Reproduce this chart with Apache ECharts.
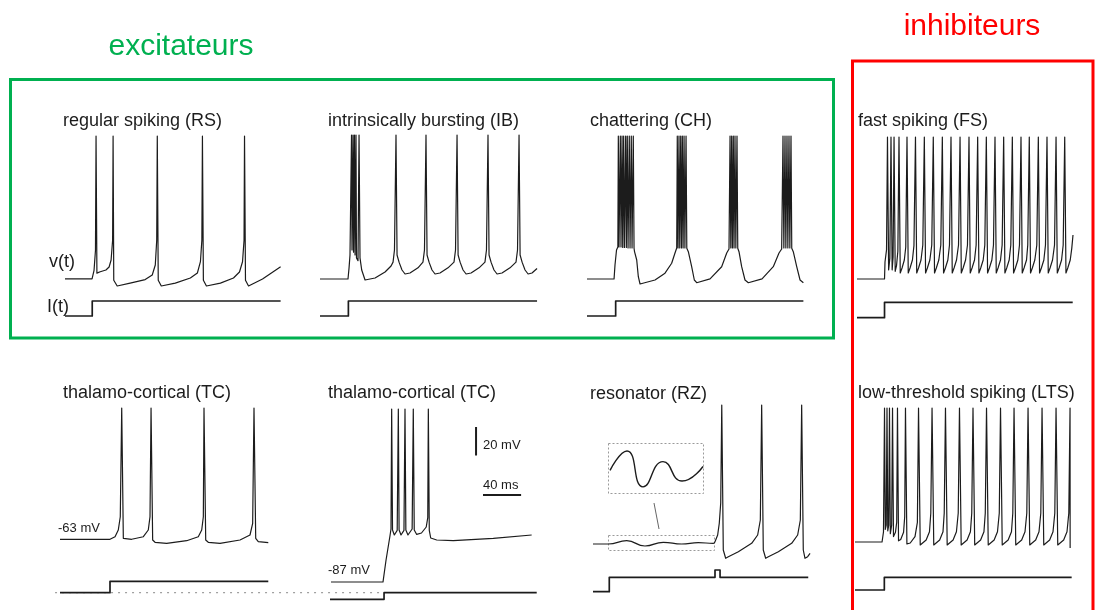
<!DOCTYPE html>
<html><head><meta charset="utf-8">
<script src="https://cdn.jsdelivr.net/npm/echarts@6/dist/echarts.min.js"></script>
<style>html,body{margin:0;padding:0;background:#fff}#c{width:1096px;height:610px}</style>
</head><body><div id="c"></div>
<script>
// ---- data: time in ms, membrane potential in mV, injected current in arbitrary units ----
const rsV = [[0,-70],[28.4,-70],[30.5,-64],[32,-50],[32.6,30],[33.5,-66],[37,-65],[43,-63.8],[46.3,-61.7],[48.4,-56.8],[50,-43],[50.5,30],[51.2,-71],[54.8,-75],[68.4,-73],[84.2,-70.5],[91.6,-67.3],[94.8,-60.3],[96.3,-43],[96.9,30],[97.9,-71],[101.1,-75],[115.8,-73],[131.6,-69.4],[139,-65.9],[142.2,-58],[143.7,-43],[144.3,30],[145.3,-71],[148.5,-75],[163.2,-73],[176.9,-69.4],[183.2,-65.2],[186.4,-58],[188,-43],[188.5,30],[189.5,-71],[192.7,-75],[207.4,-70.1],[226.4,-61.5]];
const rsI = [[0,0],[28.6,0],[28.6,15],[226.4,15]];

const ibV = [[0,-70.8],[29.4,-70.8],[30.5,-63],[31.5,-54],[32,-52.6],[33.1,30],[33.6,-50.5],[34.7,30],[35.2,-52],[36.2,30],[36.8,-54],[37.8,30],[38.3,-56],[39.9,-58],[41,30],[42,-56],[43.8,-64.5],[47.3,-71.5],[57.8,-70.1],[68.3,-65.9],[74.6,-61.7],[76.7,-59],[78.2,-50.5],[79.8,30],[80.9,-54],[83,-59],[86.1,-64.5],[89.3,-67.3],[94.5,-66.6],[102.9,-63],[108.1,-59],[109.7,-50.5],[111.3,30],[112.4,-54],[114.5,-59],[117.6,-64.5],[120.8,-67.3],[126,-66.6],[134.4,-63],[140.7,-59],[142.3,-50.5],[143.9,30],[145,-54],[147.1,-59],[150.2,-64.5],[153.4,-67.3],[158.6,-66.6],[167,-63],[173.2,-59],[174.8,-50.5],[176.4,30],[177.5,-54],[179.6,-59],[182.7,-64.5],[185.9,-67.3],[191.1,-66.6],[199.5,-63],[205.8,-59],[207.4,-50.5],[209,30],[210.1,-54],[212.2,-59],[215.3,-64.5],[218.5,-67.3],[222.6,-66.6],[227.9,-63.5]];
const ibI = [[0,0],[29.8,0],[29.8,15],[227.9,15]];

const chV = [[0,-70.1],[28.4,-70.1],[29.4,-60.3],[31,-49.8],[32.4,-47.7],[32.9,30],[33.6,-47.7],[35,30],[35.7,-47.7],[36.8,30],[37.5,-48],[38.5,30],[39.3,-48],[40.6,30],[41.3,-48],[42.3,30],[43.1,-48.4],[44.4,30],[45.2,-48.4],[46.5,30],[47.3,-48.4],[48.6,30],[49.4,-48.6],[49.9,-51],[52.2,-56.8],[53.9,-68.5],[55.7,-73.6],[71.4,-70.8],[81.9,-66],[88.9,-59.1],[92.4,-51.9],[94.2,-48.4],[94.8,30],[95.6,-48.4],[96.6,30],[97.4,-48.4],[98.4,30],[99.2,-48.4],[100.1,30],[100.9,-48.4],[101.9,30],[102.8,-48.4],[104,30],[104.8,-48.6],[106.4,-51],[109.9,-61.5],[112.7,-70.8],[115.2,-72.7],[129.2,-70],[141.4,-61.5],[146.7,-51.9],[149.1,-49.1],[150.2,30],[151,-48.4],[151.9,30],[152.7,-48.4],[153.6,30],[154.4,-48.4],[155.4,30],[156.3,-48.4],[157.5,30],[158.3,-48.6],[159.6,-51],[162.4,-61.5],[165.9,-70.8],[169.4,-72.7],[183.8,-70],[195.6,-61.5],[201.6,-51.9],[204.4,-49.1],[205.8,30],[206.7,-48.4],[207.9,30],[208.8,-48.4],[210,30],[210.9,-48.4],[212.1,30],[213,-48.4],[214.2,30],[215,-48.6],[216.6,-51],[220.2,-61.5],[223.7,-70.8],[227.2,-72.7]];
const chI = [[0,0],[30.1,0],[30.1,15],[227.2,15]];

const fsV = [[0,-69.4],[28.9,-69.4],[29.4,-57.5],[31,-49],[32,30],[33.2,-63],[34.5,-55],[35.7,30],[36.9,-63],[37.9,-54],[38.9,30],[40.1,-64],[41.5,-60],[42.9,-50],[44.1,30],[45.4,-65.2],[47.3,-61.7],[49.7,-56.1],[51.2,-47],[52.5,30],[53.8,-65.2],[55.7,-61.7],[58.2,-56.1],[59.8,-46],[61.4,30],[62.7,-65.2],[64.6,-61.7],[67.2,-56.1],[69.1,-45.6],[70.7,30],[72,-65.2],[73.9,-61.7],[76.5,-56.1],[78.5,-45.6],[80.1,30],[81.4,-65.2],[83.3,-61.7],[85.9,-56.1],[88,-45.6],[89.6,30],[90.9,-65.2],[92.8,-61.7],[95.4,-56.1],[97.1,-45.6],[98.7,30],[100,-65.2],[101.9,-61.7],[104.5,-56.1],[106.6,-45.6],[108.2,30],[109.5,-65.2],[111.4,-61.7],[114,-56.1],[116,-45.6],[117.6,30],[118.9,-65.2],[120.8,-61.7],[123.4,-56.1],[125.1,-45.6],[126.7,30],[128,-65.2],[129.9,-61.7],[132.5,-56.1],[134.2,-45.6],[135.8,30],[137.1,-65.2],[139,-61.7],[141.6,-56.1],[143.3,-45.6],[144.9,30],[146.2,-65.2],[148.1,-61.7],[150.7,-56.1],[152.4,-45.6],[154,30],[155.3,-65.2],[157.2,-61.7],[159.8,-56.1],[161.5,-45.6],[163.1,30],[164.4,-65.2],[166.3,-61.7],[168.9,-56.1],[170.6,-45.6],[172.2,30],[173.5,-65.2],[175.4,-61.7],[178,-56.1],[179.3,-45.6],[180.9,30],[182.2,-65.2],[184.1,-61.7],[186.7,-56.1],[188.8,-45.6],[190.4,30],[191.7,-65.2],[193.6,-61.7],[196.2,-56.1],[197.9,-45.6],[199.5,30],[200.8,-65.2],[202.7,-61.7],[205.3,-56.1],[207.4,-45.6],[209,30],[210.3,-65.2],[212.2,-61.7],[214.8,-56.1],[216.5,-45.6],[218.1,30],[219.4,-65.2],[221.3,-61.7],[223.9,-56.1],[225.5,-48],[226.8,-38.6]];
const fsI = [[0,0],[28.9,0],[28.9,15.4],[226.5,15.4]];

const tc1V = [[0,-61.9],[52.5,-61.9],[57.8,-60.1],[61.2,-55.4],[63.3,-46.1],[64.8,30],[66.5,-61.2],[75.3,-61.9],[87.5,-60.1],[92.7,-55.4],[94.5,-46.1],[95.6,30],[97.3,-62.4],[99.8,-64],[112,-64.7],[133,-62.9],[145.2,-60.1],[148.8,-55.4],[150.5,-46.1],[151.2,30],[153,-62.4],[155.7,-64],[168,-64.7],[189,-62.4],[199.5,-58.9],[202.3,-50.7],[203.7,30],[205.5,-61.2],[208.2,-63.6],[218.7,-64.3]];
const tc1I = [[0,0],[52.5,0],[52.5,11.3],[218.7,11.3]];
const zeroCurrent = [[-5.2,0],[340,0]];

const tc2V = [[0,-91.1],[54.6,-91.1],[57.8,-75.7],[61.9,-58.9],[63,-54],[63.7,30],[64.6,-54.7],[66.5,-58.2],[69.5,-55],[70.7,30],[71.5,-54.7],[73.5,-58.2],[76.6,-55],[77.7,30],[78.6,-54.7],[80.8,-58.2],[85.2,-54],[86.4,30],[87.4,-54.7],[90,-57.8],[95,-56.8],[100,-52.6],[101.6,-46],[102.2,30],[103.2,-55],[104.7,-60.3],[111,-61.7],[128.4,-62.2],[170.4,-60.5],[210.7,-58.2]];
const tc2I = [[-1.8,-6.6],[55.7,-6.6],[55.7,0],[216,0]];
const scaleBar20mV = [[152.3,17.4],[152.3,-2.6]];
const scaleBar40ms = [[159.6,-30.2],[199.6,-30.2]];

const rzSub = [[0,-67.3],[16.1,-67.3],[35.4,-65],[54.6,-68.7],[73.8,-66.1],[93.1,-67.3],[110.6,-66.4],[126.3,-66.8],[128.1,-65.7]];
const rzSpk = [[128.1,-65.7],[130.9,-61],[132.6,-52.8],[134.1,-38.6],[135.2,30],[136.8,-71.5],[139.3,-77.3],[142.1,-76.2],[152.6,-72.7],[166.6,-66.8],[172.9,-61],[175.7,-50.5],[177.1,30],[178.8,-71.5],[181.3,-77.3],[184.1,-76.2],[194.6,-72.7],[208.6,-66.8],[214.9,-61],[217.7,-50.5],[219.1,30],[220.8,-71.5],[222.6,-77.3],[225.4,-76.2],[227.9,-73.8]];
const rzInset = [[17.9,-67],[35.7,-65],[52.5,-68.7],[73.5,-66.1],[93.5,-68.1],[115.5,-66.6]];
const rzI = [[0,0],[17.1,0],[17.1,14.4],[128.1,14.4],[128.1,21.7],[133.4,21.7],[133.4,14.4],[226,14.4]];

const ltsV = [[0,-63.8],[28.4,-63.8],[29.9,-56.8],[31,30],[31.8,-55],[32.8,-52],[33.6,30],[34.4,-56],[35.4,-52],[36.2,30],[37.1,-58],[38.5,-52],[39.4,30],[40.4,-60],[42.5,-57],[43.8,-50],[44.6,30],[45.7,-63],[48,-62],[51,-57],[52.2,-46],[53,30],[54.5,-65.2],[58,-64.5],[63,-60],[65.5,-50],[66.7,30],[68.5,-65.9],[74.7,-62.4],[78.2,-56.6],[79.6,-43.5],[80.9,30],[82.7,-65.9],[88.9,-62.4],[92.4,-56.6],[93.7,-43.5],[95,30],[96.8,-65.9],[103,-62.4],[106.5,-56.6],[108.4,-43.5],[109.7,30],[111.5,-65.9],[117.7,-62.4],[121.2,-56.6],[122.6,-43.5],[123.9,30],[125.7,-65.9],[131.9,-62.4],[135.4,-56.6],[136.8,-43.5],[138.1,30],[139.9,-65.9],[146.1,-62.4],[149.6,-56.6],[151.5,-43.5],[152.8,30],[154.6,-65.9],[160.8,-62.4],[164.3,-56.6],[165.7,-43.5],[167,30],[168.8,-65.9],[175,-62.4],[178.5,-56.6],[180.4,-43.5],[181.7,30],[183.5,-65.9],[189.7,-62.4],[193.2,-56.6],[195.1,-43.5],[196.4,30],[198.2,-65.9],[204.4,-62.4],[207.9,-56.6],[209.8,-43.5],[211.1,30],[212.9,-65.9],[219.1,-62.4],[222.6,-56.6],[224.5,-43.5],[225.8,30],[225.9,-68]];
const ltsI = [[0,0],[30.8,0],[30.8,12.7],[227.5,12.7]];

const titles = ['regular spiking (RS)','intrinsically bursting (IB)','chattering (CH)','fast spiking (FS)','thalamo-cortical (TC)','thalamo-cortical (TC)','resonator (RZ)','low-threshold spiking (LTS)'];
const groupLabels = ['excitateurs','inhibiteurs'];

// ---- layout ----
const PX_MS = 1/1.05, PX_MV = 1/0.7;
const T_MAX = 230, V_MIN = -110, V_MAX = 35, I_MIN = -10, I_MAX = 25;
const INK = '#1c1c1c', GREEN = '#00B050', RED = '#FF0000';
const FONT = '"Liberation Sans", Arial, sans-serif';

const panels = [
  {v:[{d:rsV}], i:rsI, left:65, vTop:136, iZero:316, tx:63, ty:121},
  {v:[{d:ibV}], i:ibI, left:320, vTop:135, iZero:316, tx:328, ty:121},
  {v:[{d:chV}], i:chI, left:587, vTop:136, iZero:316, tx:590, ty:121},
  {v:[{d:fsV}], i:fsI, left:857, vTop:137, iZero:317.7, tx:858, ty:121},
  {v:[{d:tc1V}], i:tc1I, left:60, vTop:408, iZero:592.7, tx:63, ty:393, zero:true},
  {v:[{d:tc2V},{d:scaleBar20mV,w:2},{d:scaleBar40ms,w:2}], i:tc2I, left:331, vTop:409, iZero:592.7, tx:328, ty:393},
  {v:[{d:rzSub,smooth:0.5},{d:rzSpk}], i:rzI, left:593, vTop:405, iZero:591.7, tx:590, ty:394},
  {v:[{d:ltsV}], i:ltsI, left:855, vTop:408, iZero:590, tx:858, ty:393}
];

const grid=[], xAxis=[], yAxis=[], series=[];
function addGrid(g, ymin, ymax, tmin, tmax){
  const idx = grid.length;
  grid.push(Object.assign({containLabel:false}, g));
  xAxis.push({gridIndex:idx, type:'value', min:tmin||0, max:(tmax==null?T_MAX:tmax), show:false});
  yAxis.push({gridIndex:idx, type:'value', min:ymin, max:ymax, show:false, splitLine:{show:false}});
  return idx;
}
function addLine(idx, data, opt){
  opt = opt||{};
  series.push({type:'line', xAxisIndex:idx, yAxisIndex:idx, data:data, showSymbol:false, symbol:'none',
    smooth:opt.smooth||false, clip:true, silent:true, animation:false, z:opt.z||2,
    lineStyle:{color:opt.color||INK, width:opt.w||1.2, type:opt.type||'solid', cap:'butt', join:'round'}});
}
panels.forEach(p=>{
  const w = T_MAX*PX_MS;
  const gv = addGrid({left:p.left, top:p.vTop-(V_MAX-30)*PX_MV, width:w, height:(V_MAX-V_MIN)*PX_MV}, V_MIN, V_MAX);
  p.v.forEach(s=>addLine(gv, s.d, {smooth:s.smooth, w:s.w}));
  if (p.zero) {
    // zero-current reference, shared by both thalamo-cortical panels
    const t0 = zeroCurrent[0][0], t1 = zeroCurrent[1][0];
    const gz = addGrid({left:p.left+t0*PX_MS, top:p.iZero-I_MAX, width:(t1-t0)*PX_MS, height:I_MAX-I_MIN}, I_MIN, I_MAX, t0, t1);
    addLine(gz, zeroCurrent, {color:'#a0a0a0', w:1.3, type:[2,5], z:1});
  }
  const gi = addGrid({left:p.left, top:p.iZero-I_MAX, width:w, height:I_MAX-I_MIN}, I_MIN, I_MAX);
  addLine(gi, p.i, {w:1.7, z:3});
});
// resonator inset (magnified subthreshold oscillation)
const INSET_PX_MV = 9.7;
const gInset = addGrid({left:593, top:451-2*INSET_PX_MV, width:T_MAX*PX_MS, height:8*INSET_PX_MV}, -71, -63);
addLine(gInset, rzInset, {smooth:0.55, w:1.4});

function txt(s,x,y,size,color,align){
  return {type:'text', x:x, y:y, silent:true, style:{text:s, font:size+'px '+FONT, fill:color, align:align||'left', verticalAlign:'middle'}};
}
const graphic = [
  txt(groupLabels[0], 181, 47, 30, GREEN, 'center'),
  txt(groupLabels[1], 972, 27, 30, RED, 'center'),
  {type:'rect', silent:true, shape:{x:10.5, y:79.5, width:823, height:258.5}, style:{fill:'none', stroke:GREEN, lineWidth:3}},
  {type:'rect', silent:true, shape:{x:852.5, y:61, width:240.5, height:600}, style:{fill:'none', stroke:RED, lineWidth:3}},
  txt('v(t)', 49, 262, 18, INK),
  txt('I(t)', 47, 307, 18, INK),
  txt('-63 mV', 58, 528.5, 13, INK),
  txt('-87 mV', 328, 570.5, 13, INK),
  txt('20 mV', 483, 445.5, 13, INK),
  txt('40 ms', 483, 485.5, 13, INK),
  {type:'rect', silent:true, shape:{x:608.5, y:443.5, width:95, height:50}, style:{fill:'none', stroke:'#9a9a9a', lineWidth:1, lineDash:[2,2]}},
  {type:'rect', silent:true, shape:{x:608.5, y:535.5, width:106, height:15}, style:{fill:'none', stroke:'#9a9a9a', lineWidth:1, lineDash:[2,2]}},
  {type:'line', silent:true, shape:{x1:654, y1:503, x2:659, y2:529}, style:{stroke:'#666', lineWidth:1}}
];
panels.forEach((p,k)=>graphic.push(txt(titles[k], p.tx, p.ty, 18, INK)));

const chart = echarts.init(document.getElementById('c'), null, {renderer:'canvas'});
chart.setOption({animation:false, backgroundColor:'#fff', grid, xAxis, yAxis, series, graphic});
</script></body></html>
